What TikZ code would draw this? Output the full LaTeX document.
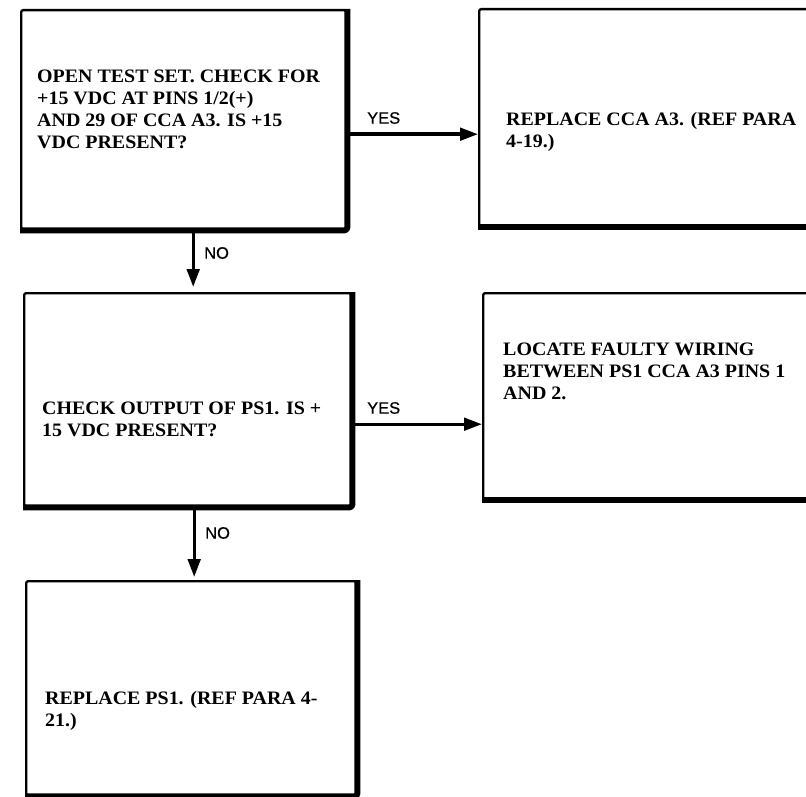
\documentclass[tikz,border=0pt]{standalone}
\usepackage{fontspec}
\setmainfont{Liberation Serif}[FakeStretch=1.05]
\newfontfamily\labelfont{Liberation Sans}[FakeBold=0.6]
\usetikzlibrary{arrows.meta}
\tikzset{
  box/.style={draw, line width=2.4pt, rounded corners=2pt, anchor=north west, inner sep=0pt},
  boxedge/.style={line width=6pt, rounded corners=3pt, line join=round, line cap=butt},
  txt/.style={anchor=west, align=left, inner sep=0pt, font=\fontsize{19}{22}\selectfont\bfseries},
  lbl/.style={anchor=west, inner sep=0pt, font=\labelfont\fontsize{16.5}{18}\selectfont},
  arr/.style={line width=3.4pt, -{Triangle[length=18pt,width=12.5pt]}}
}
\begin{document}
\begin{tikzpicture}[x=1pt,y=-1pt]
\fill[white] (0,0) rectangle (806,797);
\useasboundingbox (0,0) rectangle (806,797);
\clip (0,0) rectangle (806,797);
% boxes
\node[box, minimum width=325pt, minimum height=219pt] (b1) at (20,9) {};
\node[box, minimum width=360pt, minimum height=217pt] (b2) at (478,8) {};
\node[box, minimum width=327pt, minimum height=213pt] (b3) at (23,292) {};
\node[box, minimum width=360pt, minimum height=206pt] (b4) at (482,292) {};
\node[box, minimum width=330pt, minimum height=214pt] (b5) at (25,580) {};
% heavy right / bottom edges
\draw[boxedge] (b1.north east) -- (b1.south east) -- (b1.south west);
\draw[boxedge] (b2.south east) -- (b2.south west);
\draw[boxedge] (b3.north east) -- (b3.south east) -- (b3.south west);
\draw[boxedge] (b4.south east) -- (b4.south west);
\draw[boxedge] (b5.north east) -- (b5.south east) -- (b5.south west);
% texts
\node[txt] (t1) at (37,109) {OPEN TEST SET. CHECK FOR\\+15 VDC AT PINS 1/2(+)\\AND 29 OF CCA A3. IS +15\\VDC PRESENT?};
\node[txt] (t2) at (506,132) {REPLACE CCA A3. (REF PARA\\4-19.)};
\node[txt] (t3) at (42,419) {CHECK OUTPUT OF PS1. IS +\\15 VDC PRESENT?};
\node[txt] (t4) at (503,371) {LOCATE FAULTY WIRING\\BETWEEN PS1 CCA A3 PINS 1\\AND 2.};
\node[txt] (t5) at (45,711) {REPLACE PS1. (REF PARA 4-\\21.)};
% connectors
\draw[arr] ([yshift=-14.5pt]b1.east) -- ([yshift=-14.5pt]b1.east -| b2.west);
\draw[arr, shorten >=5pt] ([xshift=9.5pt]b1.south) -- ([xshift=9.5pt]b1.south |- b3.north);
\draw[arr] ([yshift=-24.5pt]b3.east) -- ([yshift=-24.5pt]b3.east -| b4.west);
\draw[arr, shorten >=3pt] ([xshift=6.5pt]b3.south) -- ([xshift=6.5pt]b3.south |- b5.north);
% labels
\node[lbl] (y1) at (367,118) {YES};
\node[lbl] (n1) at (204,253) {NO};
\node[lbl] (y2) at (367,408) {YES};
\node[lbl] (n2) at (205,533) {NO};
\end{tikzpicture}
\end{document}
